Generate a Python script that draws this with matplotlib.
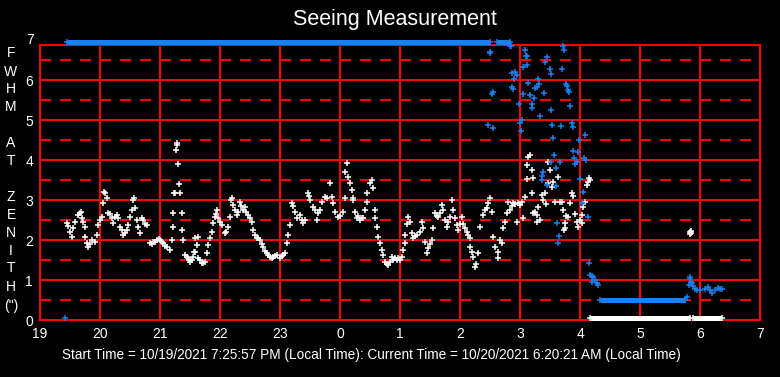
import numpy as np
import matplotlib.pyplot as plt

plt.rcParams['font.family'] = ['Liberation Sans', 'DejaVu Sans']

hour_labels = ['19', '20', '21', '22', '23', '0', '1', '2', '3', '4', '5', '6', '7']

# white series: minutes after 19:00 and FWHM at zenith (arcsec)
white_min = [27, 28, 30, 32, 33, 35, 38, 40, 41, 42, 43, 45, 45, 47, 48,
             50, 52, 55, 57, 58, 60, 62, 63, 64, 65, 67, 68, 70, 72, 73,
             75, 77, 78, 80, 82, 83, 85, 87, 88, 90, 92, 93, 94, 95, 97,
             98, 100, 102, 103, 105, 107, 110, 112, 113, 115, 117, 119, 120, 122, 123,
             125, 127, 130, 132, 133, 133, 134, 135, 136, 137, 137, 138, 139, 140, 142,
             142, 143, 145, 147, 148, 149, 150, 152, 153, 154, 155, 155, 157, 158, 158,
             160, 162, 163, 165, 167, 168, 170, 172, 173, 175, 176, 177, 178, 180, 182,
             185, 186, 188, 190, 191, 192, 193, 195, 197, 198, 200, 201, 203, 205, 206,
             208, 210, 212, 213, 215, 217, 218, 220, 222, 223, 225, 227, 228, 230, 232,
             233, 235, 237, 240, 242, 243, 245, 247, 248, 250, 252, 253, 255, 257, 260,
             262, 263, 265, 268, 269, 270, 273, 275, 277, 278, 280, 282, 285, 287, 290,
             292, 293, 295, 298, 300, 303, 305, 305, 307, 308, 310, 312, 313, 313, 315,
             317, 318, 320, 322, 323, 325, 327, 327, 330, 332, 333, 335, 335, 337, 338,
             340, 342, 343, 345, 347, 348, 350, 352, 353, 355, 357, 358, 360, 362, 363,
             365, 365, 367, 368, 370, 372, 373, 375, 377, 380, 382, 383, 385, 387, 388,
             390, 392, 393, 395, 397, 398, 400, 402, 403, 405, 407, 408, 410, 412, 413,
             415, 417, 418, 420, 422, 423, 425, 427, 428, 430, 430, 432, 433, 435, 436,
             438, 440, 443, 445, 447, 448, 450, 452, 453, 455, 458, 458,
             460, 462, 463, 465, 467, 468, 470, 472, 473, 475, 477, 478, 480, 482, 483,
             485, 487, 487, 488, 490, 492, 492, 493, 493, 495, 497, 497, 498, 500, 502,
             503, 505, 506, 508, 508, 510, 512, 513, 515, 518, 520, 522, 523, 524, 525,
             525, 526, 528, 530, 532, 533, 535, 537, 538, 540, 542, 542, 543, 545, 547,
             548, 549, 550,
             650, 650, 651, 651]
white_fwhm = [2.42, 2.35, 2.2, 2.08, 2.3, 2.45, 2.62, 2.67, 2.7, 2.55, 2.45, 2.33, 2.08, 1.92, 1.83,
              1.9, 2.0, 1.95, 2.12, 2.37, 2.5, 2.58, 2.92, 3.2, 3.17, 3.05, 2.67, 2.65, 2.55, 2.42,
              2.58, 2.62, 2.55, 2.33, 2.25, 2.12, 2.17, 2.25, 2.37, 2.58, 2.75, 3.0, 3.05, 2.8, 2.5,
              2.33, 2.17, 2.55, 2.5, 2.4, 2.37, 1.92, 1.9, 1.95, 1.95, 2.0, 2.02, 2.0, 1.95, 1.92,
              1.85, 1.83, 1.75, 2.0, 2.33, 2.67, 3.17, 3.17, 4.25, 4.38, 4.42, 3.9, 3.4, 3.17, 2.67,
              2.25, 2.0, 1.62, 1.58, 1.55, 1.5, 1.45, 1.5, 1.58, 1.7, 1.7, 2.05, 1.87, 2.08, 1.55,
              1.5, 1.42, 1.42, 1.45, 1.67, 1.87, 2.05, 2.2, 2.42, 2.58, 2.65, 2.75, 2.55, 2.45, 2.37,
              2.17, 2.2, 2.33, 2.58, 3.0, 3.05, 2.87, 2.75, 2.62, 2.7, 2.95, 2.85, 2.75, 2.83, 2.7,
              2.62, 2.55, 2.45, 2.25, 2.12, 2.05, 2.05, 2.0, 1.9, 1.83, 1.72, 1.67, 1.62, 1.58, 1.55,
              1.58, 1.6, 1.62, 1.55, 1.6, 1.62, 1.67, 1.92, 2.12, 2.37, 2.92, 2.85, 2.7, 2.55, 2.62,
              2.5, 2.42, 2.5, 3.17, 3.1, 3.0, 2.83, 2.75, 2.5, 2.67, 2.75, 2.95, 3.08, 3.05, 3.42,
              3.08, 2.92, 2.7, 2.58, 2.6, 2.7, 3.05, 3.7, 3.92, 3.58, 3.42, 3.25, 3.0, 3.05, 2.7,
              2.55, 2.6, 2.5, 2.55, 2.55, 2.75, 2.95, 3.17, 3.42, 3.5, 3.3, 2.75, 2.55, 2.33, 2.08,
              1.92, 1.75, 1.62, 1.45, 1.4, 1.37, 1.45, 1.58, 1.5, 1.55, 1.5, 1.55, 1.5, 1.58, 1.75,
              1.92, 2.12, 2.4, 2.58, 2.45, 2.17, 2.05, 2.1, 2.12, 2.2, 2.45, 2.3, 1.95, 1.67, 1.8,
              1.9, 2.0, 2.3, 2.67, 2.6, 2.58, 2.67, 2.87, 2.75, 2.5, 2.33, 2.45, 2.58, 3.0, 2.75,
              2.55, 2.37, 2.25, 2.4, 2.58, 2.4, 2.3, 2.2, 2.12, 2.05, 1.83, 1.7, 1.58, 1.33, 1.4,
              1.67, 2.33, 2.62, 2.75, 2.8, 2.92, 3.05, 2.7, 2.08, 1.83, 1.55, 1.7,
              2.0, 1.92, 2.3, 2.45, 2.67, 2.95, 2.75, 2.85, 2.92, 2.9, 2.45, 2.92, 2.88, 2.95, 2.55,
              3.08, 3.87, 3.52, 4.08, 4.12, 3.75, 3.17, 3.55, 2.67, 2.7, 2.62, 2.45, 2.83, 2.5, 3.12,
              3.0, 3.17, 2.9, 3.42, 3.95, 3.75, 3.33, 3.45, 2.95, 3.58, 2.95, 2.95, 2.75, 2.25, 2.42,
              2.3, 2.6, 2.58, 2.92, 3.17, 3.1, 2.65, 2.45, 2.33, 2.5, 2.62, 2.42, 2.83, 2.95, 3.37,
              3.45, 3.55, 3.5,
              2.2, 2.15, 2.22, 2.17]
# white readings sitting on zero (start, end minutes)
white_zero_runs = [(550, 650), (653, 682)]
white_zero_level = 0.05

# blue series
blue_min = [25,
            448, 450, 450, 452, 453, 453, 471, 470, 472, 472, 473, 474, 475, 477, 479,
            480, 481, 482, 483, 483, 485, 486, 487, 487, 488, 490, 492, 492, 494, 495,
            497, 498, 499, 500, 502, 502, 503, 504, 505, 507, 507, 510, 511, 511, 511,
            512, 513, 514, 516, 516, 517, 518, 519, 520, 521, 522, 523, 524, 526, 527,
            528, 529, 530, 532, 533, 533, 534, 535, 537, 538, 539, 540, 542, 543, 544,
            545, 546, 548,
            549, 550, 552, 553, 552, 555, 557, 558,
            647, 649, 650, 650, 651, 652, 653, 655, 657, 660, 665, 668, 670, 672, 675,
            678, 680, 682]
blue_fwhm = [0.05,
             4.87, 6.7, 6.67, 5.65, 5.7, 4.8, 6.85, 6.85, 6.17, 5.82, 5.77, 6.02, 6.2, 6.12, 5.4,
             4.92, 4.72, 5.0, 6.33, 5.65, 6.75, 6.6, 6.6, 6.38, 5.92, 5.62, 5.4, 5.3, 5.55, 5.8,
             5.82, 6.02, 5.9, 5.1, 3.6, 3.5, 3.7, 5.67, 6.45, 6.58, 3.37, 6.28, 6.15, 5.25, 3.95,
             4.87, 4.55, 4.12, 3.8, 3.35, 2.42, 1.92, 2.1, 3.95, 4.85, 6.28, 6.85, 6.75, 5.9, 5.85,
             5.75, 5.7, 5.35, 4.92, 4.83, 4.22, 4.05, 3.9, 3.95, 4.2, 4.5, 3.52, 2.92, 3.2, 4.05,
             4.62, 4.0, 2.58,
             1.42, 1.12, 1.1, 1.08, 0.95, 1.0, 0.92, 0.87,
             0.58, 0.87, 1.08, 1.02, 0.95, 0.92, 0.85, 0.78, 0.75, 0.75, 0.77, 0.83, 0.75, 0.67, 0.75,
             0.8, 0.78, 0.78]
# saturated readings pinned at the top, and the flat low stretch
blue_top_runs = [(27, 450), (457, 470)]
blue_top_level = 6.95
blue_low_runs = [(560, 645)]
blue_low_level = 0.5

start_text = 'Start Time = 10/19/2021 7:25:57 PM (Local Time): Current Time = 10/20/2021 6:20:21 AM (Local Time)'

W, H = 780, 377
fig = plt.figure(figsize=(W / 100, H / 100), dpi=100, facecolor='black')
ax = fig.add_axes([40 / W, 57 / H, 720 / W, 275 / H])
ax.set_facecolor('black')
ax.set_xlim(0, 12)
ax.set_ylim(0, 6.875)

red = '#ff0000'
blue = '#1a7ff0'
for h in range(1, 12):
    ax.axvline(h, color=red, lw=1.5, zorder=1)
for v in range(1, 7):
    ax.axhline(v, color=red, lw=1.5, zorder=1)
for v in np.arange(0.5, 7, 1.0):
    ax.axhline(v, color=red, lw=1.5, zorder=1, linestyle=(0, (5.3, 4.3)))
for s in ax.spines.values():
    s.set_color(red)
    s.set_linewidth(1.5)

ax.set_xticks(range(13))
ax.set_xticklabels(hour_labels)
ax.set_yticks(range(7))
ax.tick_params(length=0, colors='white', labelsize=10, pad=5)
ax.text(-0.008, 7, '7', transform=ax.get_yaxis_transform(), ha='right', va='center',
        color='white', fontsize=10, clip_on=False)

mk = dict(linestyle='none', marker='+', ms=5, mew=1.1, clip_on=False, zorder=3)
ax.plot(np.array(white_min) / 60, white_fwhm, color='white', **mk)
ax.plot(np.array(blue_min) / 60, blue_fwhm, color=blue, **mk)

for runs, level, col in [(white_zero_runs, white_zero_level, 'white'),
                         (blue_top_runs, blue_top_level, blue),
                         (blue_low_runs, blue_low_level, blue)]:
    for s, e in runs:
        ax.plot([s / 60, e / 60], [level, level], color=col, lw=3.6,
                solid_capstyle='butt', clip_on=False, zorder=3)
        ax.plot([s / 60, e / 60], [level, level], color=col, **mk)

fig.text(395 / W, 1 - 20 / H, 'Seeing Measurement', ha='center', va='center',
         color='white', fontsize=15.5)

ylab = ['F', 'W', 'H', 'M', 'A', 'T', 'Z', 'E', 'N', 'I', 'T', 'H', '(")']
ylab_px = [53, 72, 89, 107, 143, 161, 197, 215, 233, 251, 268, 287, 306]
for ch, py in zip(ylab, ylab_px):
    fig.text(11 / W, 1 - py / H, ch, ha='center', va='center', color='white', fontsize=10)

fig.text(62 / W, 1 - 355 / H, start_text, ha='left', va='center', color='white', fontsize=9.8)

fig.savefig('out.png', dpi=100, facecolor='black')
